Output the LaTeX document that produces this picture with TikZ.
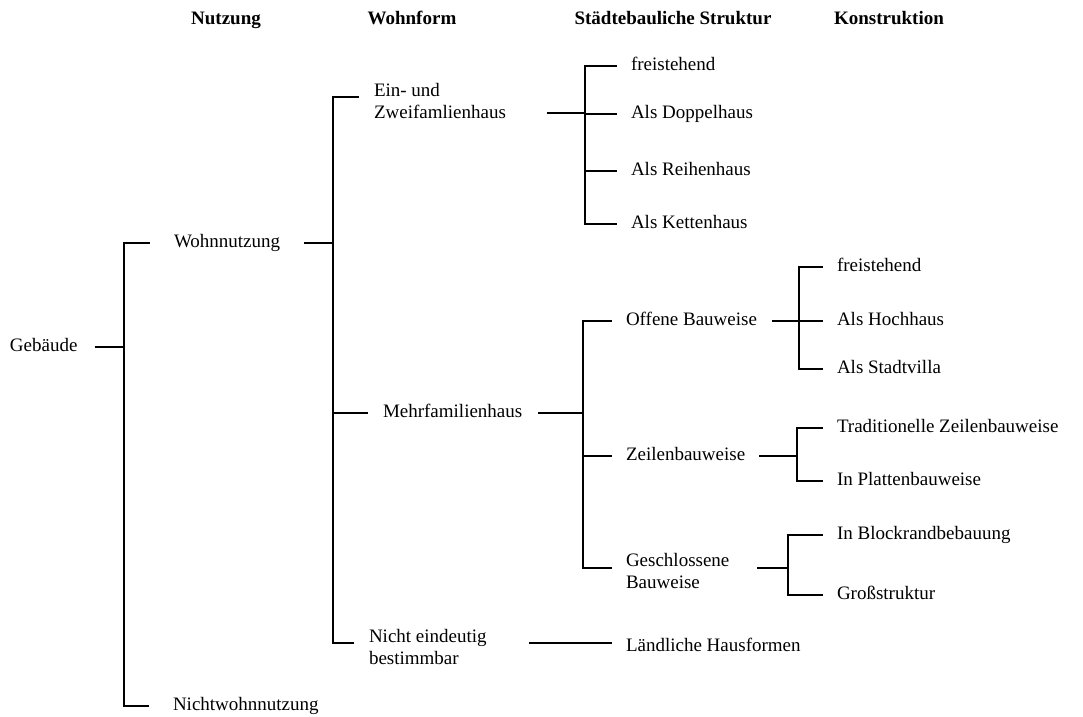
\documentclass[tikz,border=0pt]{standalone}
\usepackage{fontspec}
\setmainfont{Liberation Serif}

\begin{document}
\begin{tikzpicture}[x=0.5pt,y=-0.5pt,line width=1pt,font=\fontsize{9.5}{11}\selectfont]
  \tikzset{tx/.style={anchor=west,inner sep=0pt,text height=6.5pt,text depth=2pt},
    txx/.style={anchor=west,inner sep=0pt,align=left},
    hd/.style={inner sep=0pt,text height=7pt,text depth=2pt,font=\fontsize{9.5}{11}\selectfont\bfseries}}
  \useasboundingbox (0,0) rectangle (1083,717);
  % column heads
  \node[hd] (hNutz) at (226,20) {Nutzung};
  \node[hd] (hWohn) at (412,20) {Wohnform};
  \node[hd] (hStadt) at (673,20) {Städtebauliche Struktur};
  \node[hd] (hKons) at (889,20) {Konstruktion};
  % labels
  \node[tx] (geb) at (9,347) {Gebäude};
  \node[tx] (wohn) at (173,243) {Wohnnutzung};
  \node[tx] (nwohn) at (172,706) {Nichtwohnnutzung};
  \node[txx] (ein) at (373,101) {Ein- und\\Zweifamlienhaus};
  \node[tx] (mehr) at (382,413) {Mehrfamilienhaus};
  \node[txx] (nicht) at (368,646.5) {Nicht eindeutig\\bestimmbar};
  \node[tx] (frei1) at (630,66) {freistehend};
  \node[tx] (dop) at (630,114) {Als Doppelhaus};
  \node[tx] (reih) at (630,171) {Als Reihenhaus};
  \node[tx] (kett) at (630,224) {Als Kettenhaus};
  \node[tx] (off) at (625,321) {Offene Bauweise};
  \node[tx] (zeil) at (625,456) {Zeilenbauweise};
  \node[txx] (gesch) at (625,570.5) {Geschlossene\\Bauweise};
  \node[tx] (land) at (625,647) {Ländliche Hausformen};
  \node[tx] (frei2) at (836,267) {freistehend};
  \node[tx] (hoch) at (836,321) {Als Hochhaus};
  \node[tx] (villa) at (836,369) {Als Stadtvilla};
  \node[tx] (trad) at (836,428) {Traditionelle Zeilenbauweise};
  \node[tx] (platt) at (836,481) {In Plattenbauweise};
  \node[tx] (block) at (836,535) {In Blockrandbebauung};
  \node[tx] (gross) at (836,595) {Großstruktur};
  % brackets
  \coordinate (jG) at (124,347);
  \coordinate (jW) at (333,243);
  \coordinate (jE) at (585,113);
  \coordinate (jM) at (583,413);
  \coordinate (jO) at (799,321);
  \coordinate (jZ) at (797,456);
  \coordinate (jS) at (788,568);
  \draw ([xshift=8pt]geb.east) -- (jG);
  \foreach \c in {wohn,nwohn} \draw (jG) |- ([xshift=-11.5pt]\c.west);
  \draw ([xshift=11.5pt]wohn.east) -- (jW);
  \foreach \c/\dy in {ein/2pt,mehr/0pt,nicht/1.75pt} \draw (jW) |- ([xshift=-7pt,yshift=\dy]\c.west);
  \draw ([xshift=20pt,yshift=-6pt]ein.east) -- (jE);
  \foreach \c in {frei1,dop,reih,kett} \draw (jE) |- ([xshift=-6.5pt]\c.west);
  \draw ([xshift=7.5pt]mehr.east) -- (jM);
  \foreach \c/\dy in {off/0pt,zeil/0pt,gesch/1.25pt} \draw (jM) |- ([xshift=-6.5pt,yshift=\dy]\c.west);
  \draw ([xshift=7pt]off.east) -- (jO);
  \foreach \c in {frei2,hoch,villa} \draw (jO) |- ([xshift=-6.5pt]\c.west);
  \draw ([xshift=6.5pt]zeil.east) -- (jZ);
  \foreach \c in {trad,platt} \draw (jZ) |- ([xshift=-6.5pt]\c.west);
  \draw ([xshift=13.5pt,yshift=1.25pt]gesch.east) -- (jS);
  \foreach \c in {block,gross} \draw (jS) |- ([xshift=-6.5pt]\c.west);
  \coordinate (nichtR) at ([xshift=20.5pt,yshift=1.75pt]nicht.east);
  \draw (nichtR) -- ([xshift=-6.5pt]nichtR -| land.west);
\end{tikzpicture}
\end{document}
